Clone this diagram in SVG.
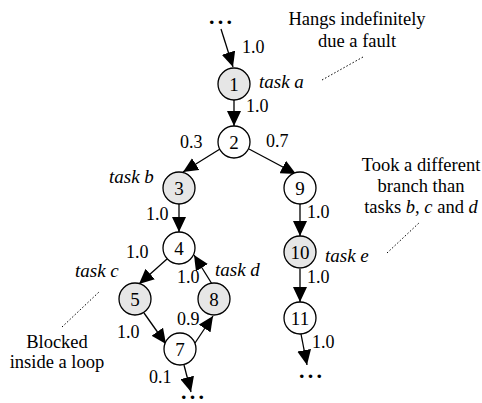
<svg xmlns="http://www.w3.org/2000/svg" width="482" height="403" viewBox="0 0 482 403">
  <style>
    text { font-family: "Liberation Serif", "Times New Roman", Times, "Nimbus Roman", "DejaVu Serif", "Noto Serif", FreeSerif, serif; }
    .node circle { stroke: #000; stroke-width: 1.3; fill: #fff; }
    .node.hit circle { fill: #e6e6e6; }
    .node text { font-size: 19px; text-anchor: middle; }
    .edges line { stroke: #000; stroke-width: 1.3; marker-end: url(#arrow); }
    .lbl { font-size: 18px; }
    .task { font-size: 19px; font-style: italic; }
    .note { font-size: 18.5px; text-anchor: middle; }
    .dots { font-size: 22px; font-weight: bold; letter-spacing: 3.3px; }
    .leader { stroke: #000; stroke-width: 1; stroke-dasharray: 1.5 2; fill: none; }
  </style>
  <defs>
    <marker id="arrow" markerUnits="userSpaceOnUse" markerWidth="15" markerHeight="14" refX="15" refY="7" orient="auto">
      <path d="M0,0 L15,7 L0,14 z" fill="#000"/>
    </marker>
  </defs>
  <rect width="482" height="403" fill="#fff"/>

  <!-- connectors -->
  <g id="connectors" class="edges">
    <line x1="221" y1="29" x2="233" y2="67"/>
    <line x1="234" y1="100" x2="234" y2="126"/>
    <line x1="220" y1="149" x2="183" y2="172"/>
    <line x1="249" y1="149" x2="296" y2="174"/>
    <line x1="179" y1="204" x2="179" y2="232"/>
    <line x1="167" y1="259" x2="139" y2="284"/>
    <line x1="144" y1="313" x2="166" y2="344"/>
    <line x1="195" y1="343" x2="213" y2="316"/>
    <line x1="212" y1="284" x2="194" y2="255"/>
    <line x1="184" y1="365" x2="191" y2="392"/>
    <line x1="300" y1="204" x2="300" y2="236"/>
    <line x1="300" y1="269" x2="300" y2="302"/>
    <line x1="301" y1="334" x2="307" y2="365"/>
  </g>

  <!-- edge probabilities -->
  <g id="edge-labels" class="lbl">
    <text x="242" y="53">1.0</text>
    <text x="246" y="112">1.0</text>
    <text x="180" y="148">0.3</text>
    <text x="266" y="147">0.7</text>
    <text x="146" y="220">1.0</text>
    <text x="126" y="258">1.0</text>
    <text x="177" y="283">1.0</text>
    <text x="177" y="325">0.9</text>
    <text x="117" y="338">1.0</text>
    <text x="149" y="383">0.1</text>
    <text x="307" y="218">1.0</text>
    <text x="307" y="283">1.0</text>
    <text x="312" y="348">1.0</text>
  </g>

  <!-- continuation marks -->
  <g id="ellipses" class="dots">
    <text x="209" y="24">...</text>
    <text x="181" y="399">...</text>
    <text x="299" y="378">...</text>
  </g>

  <!-- nodes -->
  <g id="n1" class="node hit"><circle cx="234" cy="84" r="16"/><text x="234" y="91">1</text></g>
  <g id="n2" class="node"><circle cx="234" cy="142" r="16"/><text x="234" y="149">2</text></g>
  <g id="n3" class="node hit"><circle cx="179" cy="188" r="16"/><text x="179" y="195">3</text></g>
  <g id="n4" class="node"><circle cx="179" cy="248" r="16"/><text x="179" y="255">4</text></g>
  <g id="n5" class="node hit"><circle cx="135" cy="299" r="16"/><text x="135" y="306">5</text></g>
  <g id="n7" class="node"><circle cx="180" cy="349" r="16"/><text x="180" y="356">7</text></g>
  <g id="n8" class="node hit"><circle cx="214" cy="299" r="16"/><text x="214" y="306">8</text></g>
  <g id="n9" class="node"><circle cx="300" cy="188" r="16"/><text x="300" y="195">9</text></g>
  <g id="n10" class="node hit"><circle cx="300" cy="252" r="16"/><text x="300" y="259">10</text></g>
  <g id="n11" class="node"><circle cx="300" cy="318" r="16"/><text x="300" y="325">11</text></g>

  <!-- task names -->
  <g id="task-labels" class="task">
    <text x="259" y="88">task a</text>
    <text x="109" y="183">task b</text>
    <text x="75" y="277">task c</text>
    <text x="215" y="276">task d</text>
    <text x="325" y="262">task e</text>
  </g>

  <!-- annotations -->
  <g id="note-fault">
    <text class="note" x="357" y="25">Hangs indefinitely</text>
    <text class="note" x="357" y="47">due a fault</text>
    <line class="leader" x1="322" y1="80" x2="363" y2="57"/>
  </g>
  <g id="note-branch">
    <text class="note" x="421" y="171">Took a different</text>
    <text class="note" x="421" y="192">branch than</text>
    <text class="note" x="421" y="213">tasks <tspan font-style="italic">b</tspan>, <tspan font-style="italic">c</tspan> and <tspan font-style="italic">d</tspan></text>
    <line class="leader" x1="387" y1="253" x2="420" y2="222"/>
  </g>
  <g id="note-loop">
    <text class="note" x="57" y="348">Blocked</text>
    <text class="note" x="57" y="368">inside a loop</text>
    <line class="leader" x1="62" y1="327" x2="99" y2="292"/>
  </g>
</svg>
